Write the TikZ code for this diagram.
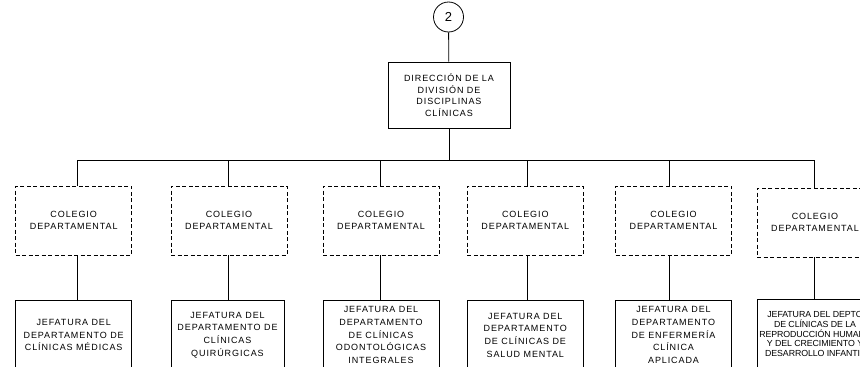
\documentclass[tikz,border=0pt]{standalone}
\usepackage{fontspec}
\setmainfont{Liberation Sans}
\newfontfamily\lsfont[LetterSpace=10]{Liberation Sans}
\newfontfamily\tightfont[LetterSpace=-1]{Liberation Sans}
\begin{document}
\begin{tikzpicture}[x=1pt,y=-1pt,line width=0.8pt,
  box/.style={draw,inner sep=0pt,minimum width=116pt,align=center},
  dbox/.style={box,dash pattern=on 4pt off 2.5pt,minimum height=69pt,font=\lsfont\fontsize{9}{12}\selectfont},
  jbox/.style={box,minimum height=70pt,font=\lsfont\fontsize{9}{12.7}\selectfont}]
\useasboundingbox (0,0) rectangle (860,367);
\clip (0,0) rectangle (860,367);
\node[draw,circle,minimum size=30pt,inner sep=0pt,font=\fontsize{13}{14}\selectfont] (c) at (448.5,17) {2};
\node[box,minimum width=122pt,minimum height=66pt,font=\lsfont\fontsize{9}{11.6}\selectfont] (top) at (449,95) {DIRECCIÓN DE LA\\DIVISIÓN DE\\DISCIPLINAS\\CLÍNICAS};
% colegios
\node[dbox] (d1) at (73.7,220.5) {COLEGIO\\DEPARTAMENTAL};
\node[dbox] (d2) at (229,220.5) {COLEGIO\\DEPARTAMENTAL};
\node[dbox] (d3) at (381,220.5) {COLEGIO\\DEPARTAMENTAL};
\node[dbox] (d4) at (525.3,220.5) {COLEGIO\\DEPARTAMENTAL};
\node[dbox] (d5) at (673.5,220.5) {COLEGIO\\DEPARTAMENTAL};
\node[dbox] (d6) at (815,222.5) {COLEGIO\\DEPARTAMENTAL};
% jefaturas
\node[jbox] (b1) at (73.7,335) {JEFATURA DEL\\DEPARTAMENTO DE\\CLÍNICAS MÉDICAS};
\node[jbox,minimum width=113pt] (b2) at (227.5,335) {JEFATURA DEL\\DEPARTAMENTO DE\\CLÍNICAS\\QUIRÚRGICAS};
\node[jbox] (b3) at (381,335) {JEFATURA DEL\\DEPARTAMENTO\\DE CLÍNICAS\\ODONTOLÓGICAS\\INTEGRALES};
\node[jbox] (b4) at (525.3,335) {JEFATURA DEL\\DEPARTAMENTO\\DE CLÍNICAS DE\\SALUD MENTAL};
\node[jbox] (b5) at (673.5,335) {JEFATURA DEL\\DEPARTAMENTO\\DE ENFERMERÍA\\CLÍNICA\\APLICADA};
\node[box,minimum height=70pt,font=\tightfont\fontsize{8.8}{9.8}\selectfont] (b6) at (815,334) {JEFATURA DEL DEPTO\\DE CLÍNICAS DE LA\\REPRODUCCIÓN HUMANA\\Y DEL CRECIMIENTO Y\\DESARROLLO INFANTIL};
% bus
\coordinate (j1) at (77,160);
\coordinate (j2) at (228,160);
\coordinate (j3) at (380,160);
\coordinate (j4) at (527.7,160);
\coordinate (j5) at (669.3,160);
\coordinate (j6) at (814,160);
\draw (c) -- (top);
\draw (top.south) -- (top.south |- j1);
\draw (j1) -- (j6);
\foreach \i in {1,...,6}{
  \draw (j\i) -- (j\i |- d\i.north);
  \draw (d\i.south -| j\i) -- (b\i.north -| j\i);
}
\end{tikzpicture}
\end{document}
